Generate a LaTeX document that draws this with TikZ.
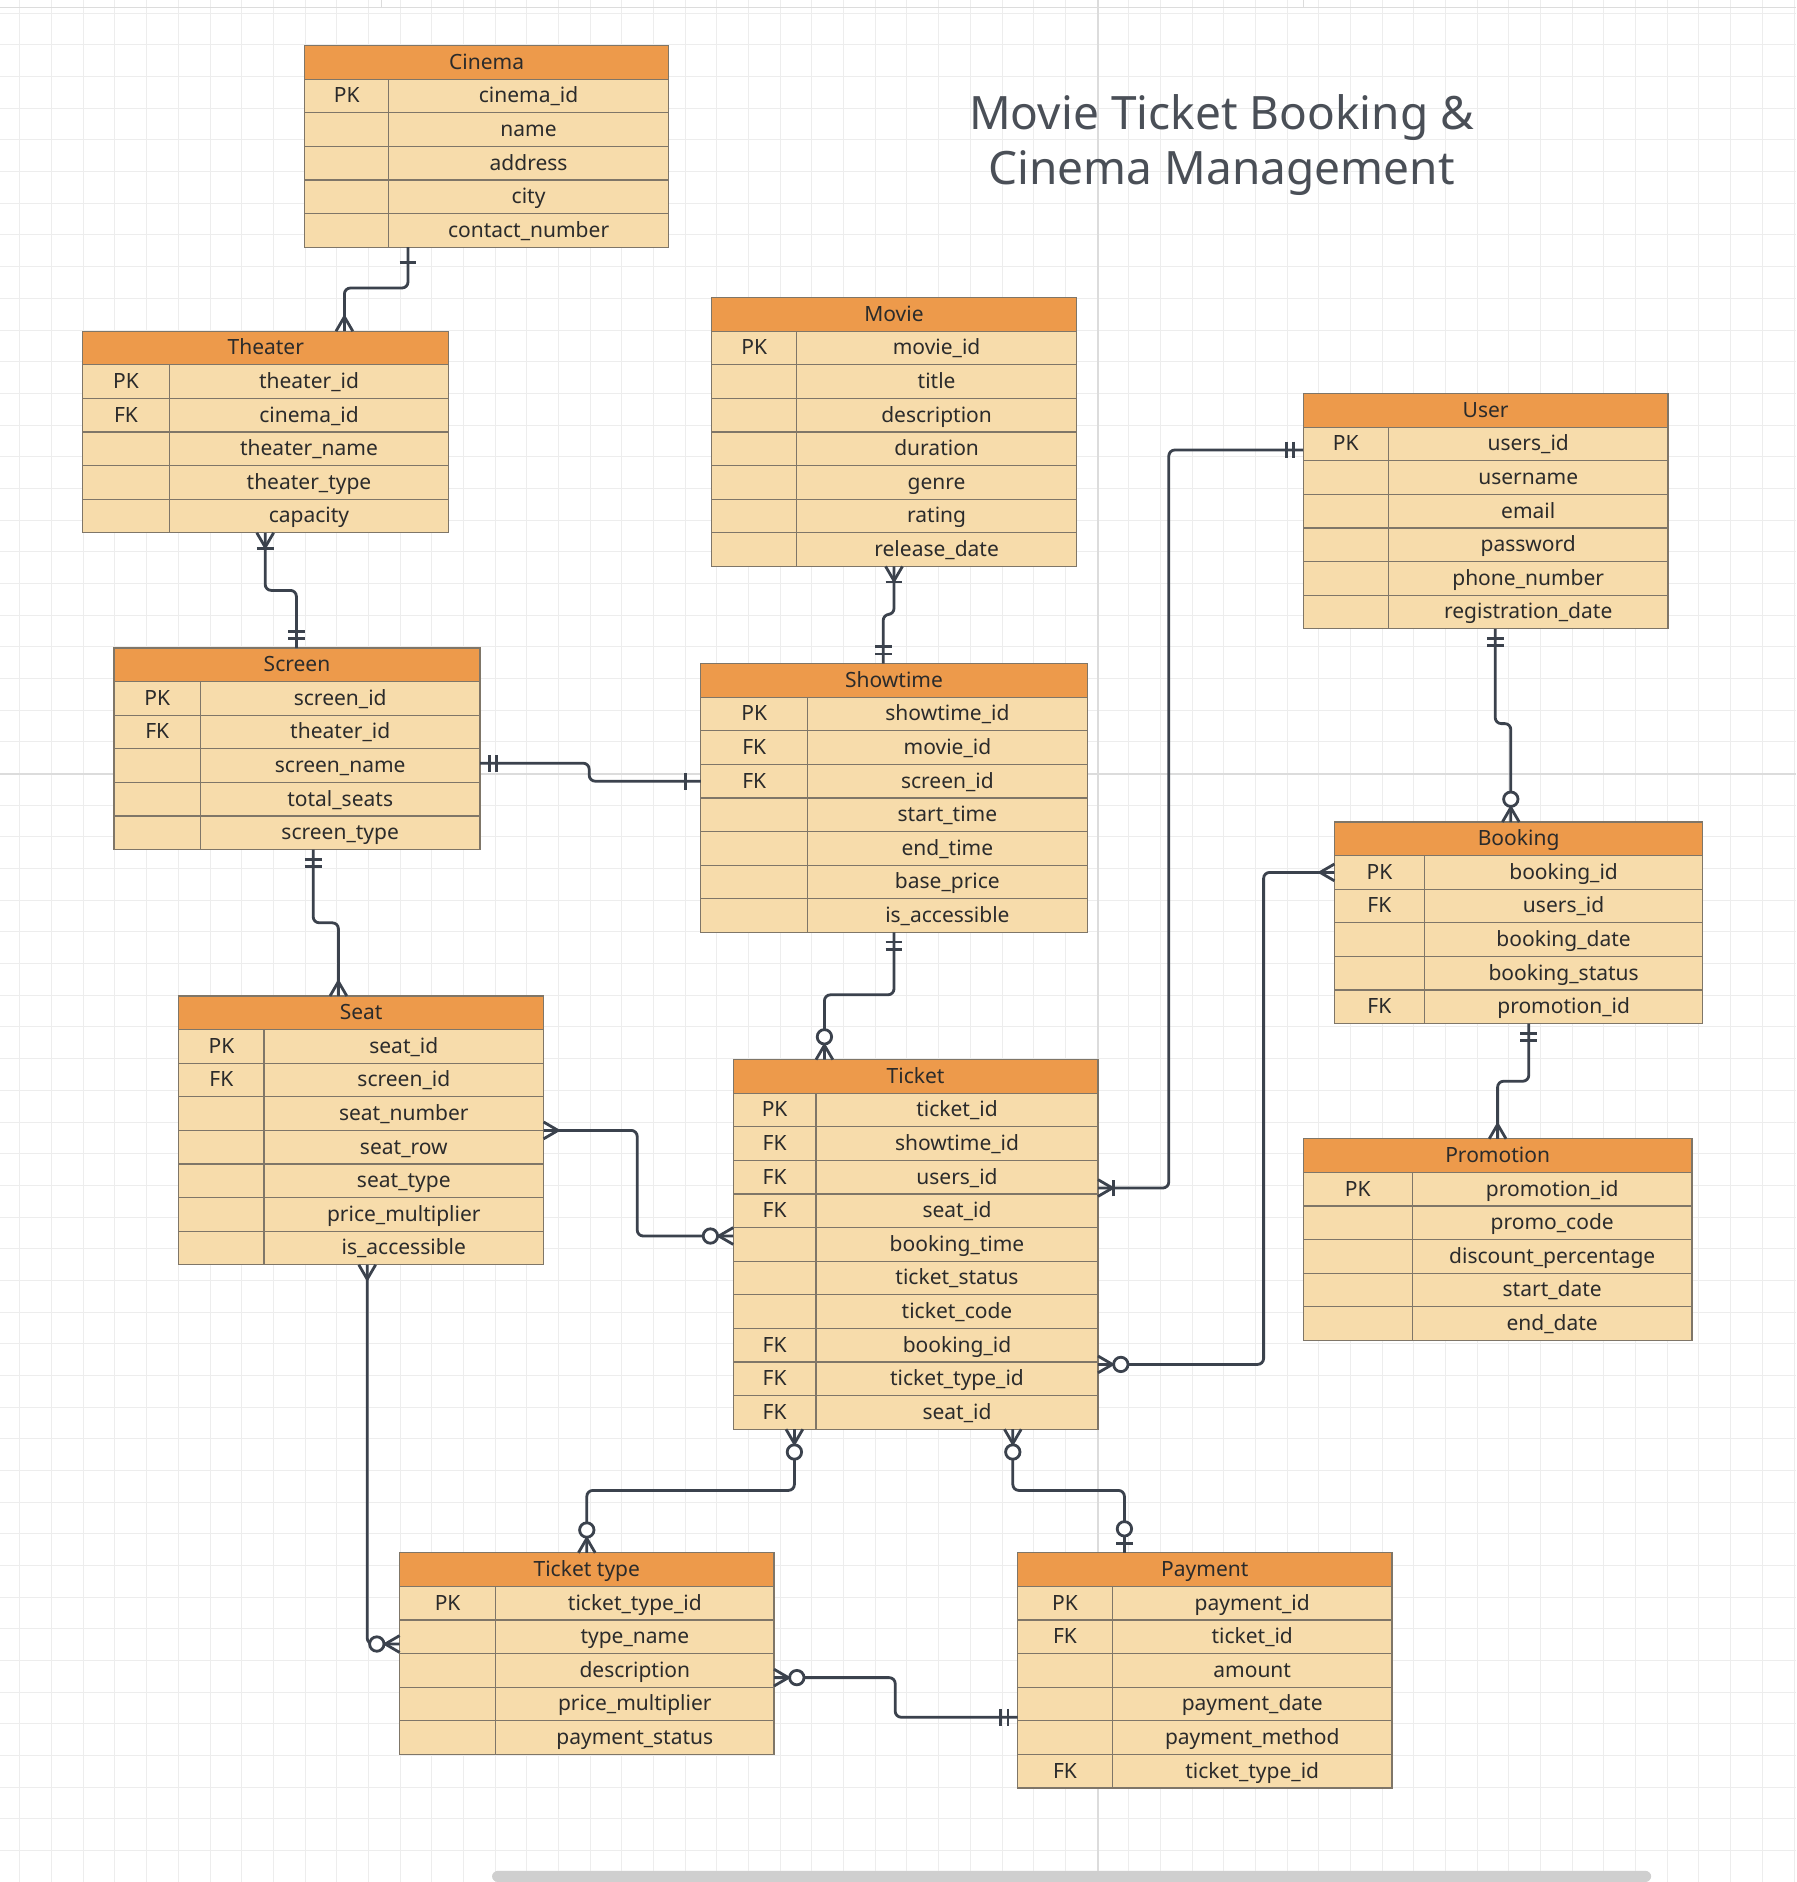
\documentclass[tikz,border=0pt]{standalone}
\usepackage{fontspec}
\setmainfont{Noto Sans}
\usetikzlibrary{fit,calc}
\definecolor{hdrorange}{HTML}{ED9A4B}
\definecolor{rowwheat}{HTML}{F7DCAB}
\definecolor{tblborder}{HTML}{7F7668}
\definecolor{relcol}{HTML}{3B424D}
\definecolor{gridcol}{HTML}{EDEDED}
\definecolor{gridmajor}{HTML}{DCDCDC}
\definecolor{txtcol}{HTML}{2B2B2B}
\definecolor{titlecol}{HTML}{4A4F57}
\definecolor{scrollgray}{HTML}{CFCFCF}
\tikzset{
  tblnode/.style={inner sep=0pt, outer sep=0pt},
  tblline/.style={draw=tblborder, line width=0.6pt},
  celltext/.style={inner sep=0pt, text height=7.2pt, text depth=0.3pt, text=txtcol, font=\fontsize{10.5}{12}\selectfont},
  rel/.style={draw=relcol, line width=1.4pt, rounded corners=3pt},
  relmark/.style={draw=relcol, line width=1.4pt},
  gridline/.style={draw=gridcol, line width=0.5pt},
  titletext/.style={text=titlecol, align=center, font=\fontsize{23}{27.6}\selectfont}
}
\newcommand\ertable[8]{%
  \pgfmathsetmacro\ybot{#3+28*(#7+1)}%
  \fill[hdrorange] (#2,#3) rectangle (#4,#3+28);
  \fill[rowwheat] (#2,#3+28) rectangle (#4,\ybot);
  \foreach \k/\f [count=\i] in {#8} {%
    \pgfmathsetmacro\yc{#3+28*\i+14}%
    \node[celltext] (#1-k\i) at ({(#2+#5)/2},\yc) {\k};
    \node[celltext] (#1-f\i) at ({(#5+#4)/2},\yc) {\f};
    \draw[tblline] (#2,\yc-14) -- (#4,\yc-14);
  }
  \draw[tblline] (#5,#3+28) -- (#5,\ybot);
  \draw[tblline] (#2,#3) rectangle (#4,\ybot);
  \node[tblnode, fit={(#2,#3)(#4,\ybot)}] (#1) {};
  \node[celltext] (#1-title) at ({(#2+#4)/2},#3+14) {#6};
}
\newcommand\mkcrow[2]{\draw[relmark, shift={(#1)}, rotate=#2] (0,7) -- (12,0) -- (0,-7);}
\newcommand\mkbar[3]{\draw[relmark, shift={(#1)}, rotate=#2] (#3,7) -- (#3,-7);}
\newcommand\mkcirc[3]{\draw[relmark, fill=white, shift={(#1)}, rotate=#2] (#3,0) circle[radius=6];}
\newcommand\erMany[2]{\mkcrow{#1}{#2}}
\newcommand\erOne[2]{\mkbar{#1}{#2}{13}}
\newcommand\erMandOne[2]{\mkbar{#1}{#2}{8}\mkbar{#1}{#2}{14}}
\newcommand\erOneMany[2]{\mkcrow{#1}{#2}\mkbar{#1}{#2}{13}}
\newcommand\erZeroMany[2]{\mkcrow{#1}{#2}\mkcirc{#1}{#2}{19}}
\newcommand\erZeroOne[2]{\mkbar{#1}{#2}{8}\mkcirc{#1}{#2}{20}}
\begin{document}
\begin{tikzpicture}[x=0.6pt, y=-0.6pt]
\fill[white] (0,0) rectangle (1496.67,1568.33);
\useasboundingbox (0,0) rectangle (1496.67,1568.33);
% grid
\foreach \i in {0,...,56} {\draw[gridline] (16.6+26.4*\i,0) -- (16.6+26.4*\i,1568.33);}
\foreach \i in {0,...,59} {\draw[gridline] (0,11+26.4*\i) -- (1496.67,11+26.4*\i);}
\draw[draw=gridmajor, line width=0.6pt] (915,0) -- (915,1568.33);
\draw[draw=gridmajor, line width=0.6pt] (0,645) -- (1496.67,645);
\draw[draw=gridmajor, line width=0.6pt] (0,6) -- (1496.67,6);
\draw[draw=gridmajor, line width=0.6pt] (318,0) -- (318,6);
\draw[draw=gridmajor, line width=0.6pt] (1086,0) -- (1086,6);
\fill[scrollgray, rounded corners=3pt] (410,1559) rectangle (1376,1568.33);
% title
\node[titletext] (title) at (1018,121) {Movie Ticket Booking \&\\Cinema Management};
% tables
\ertable{cinema}{254}{38}{557}{324}{Cinema}{5}{PK/cinema\_id, /name, /address, /city, /contact\_number}
\ertable{theater}{69}{276}{374}{141}{Theater}{5}{PK/theater\_id, FK/cinema\_id, /theater\_name, /theater\_type, /capacity}
\ertable{movie}{593}{248}{897}{664}{Movie}{7}{PK/movie\_id, /title, /description, /duration, /genre, /rating, /release\_date}
\ertable{user}{1086}{328}{1390}{1157}{User}{6}{PK/users\_id, /username, /email, /password, /phone\_number, /registration\_date}
\ertable{screen}{95}{540}{400}{167}{Screen}{5}{PK/screen\_id, FK/theater\_id, /screen\_name, /total\_seats, /screen\_type}
\ertable{showtime}{584}{553}{906}{673}{Showtime}{7}{PK/showtime\_id, FK/movie\_id, FK/screen\_id, /start\_time, /end\_time, /base\_price, /is\_accessible}
\ertable{booking}{1112}{685}{1419}{1187}{Booking}{5}{PK/booking\_id, FK/users\_id, /booking\_date, /booking\_status, FK/promotion\_id}
\ertable{seat}{149}{830}{453}{220}{Seat}{7}{PK/seat\_id, FK/screen\_id, /seat\_number, /seat\_row, /seat\_type, /price\_multiplier, /is\_accessible}
\ertable{ticket}{611}{883}{915}{680}{Ticket}{10}{PK/ticket\_id, FK/showtime\_id, FK/users\_id, FK/seat\_id, /booking\_time, /ticket\_status, /ticket\_code, FK/booking\_id, FK/ticket\_type\_id, FK/seat\_id}
\ertable{promotion}{1086}{949}{1410}{1177}{Promotion}{5}{PK/promotion\_id, /promo\_code, /discount\_percentage, /start\_date, /end\_date}
\ertable{tickettype}{333}{1294}{645}{413}{Ticket type}{5}{PK/ticket\_type\_id, /type\_name, /description, /price\_multiplier, /payment\_status}
\ertable{payment}{848}{1294}{1160}{927}{Payment}{6}{PK/payment\_id, FK/ticket\_id, /amount, /payment\_date, /payment\_method, FK/ticket\_type\_id}
% connector end points
\coordinate (c1a) at (cinema.south -| 340,0);
\coordinate (c1b) at (theater.north -| 287,0);
\coordinate (c2a) at (theater.south -| 221,0);
\coordinate (c2b) at (screen.north -| 247,0);
\coordinate (c3a) at (movie.south -| 745,0);
\coordinate (c3b) at (showtime.north -| 736,0);
\coordinate (c4a) at (screen.east |- 0,636);
\coordinate (c4b) at (showtime.west |- 0,651);
\coordinate (c5a) at (user.west |- 0,375);
\coordinate (c5b) at (ticket.east |- 0,990);
\coordinate (c6a) at (user.south -| 1246,0);
\coordinate (c6b) at (booking.north -| 1259,0);
\coordinate (c7a) at (showtime.south -| 745,0);
\coordinate (c7b) at (ticket.north -| 687,0);
\coordinate (c8a) at (seat.east |- 0,942);
\coordinate (c8b) at (ticket.west |- 0,1030);
\coordinate (c9a) at (screen.south -| 261,0);
\coordinate (c9b) at (seat.north -| 282,0);
\coordinate (c10a) at (booking.west |- 0,727);
\coordinate (c10b) at (ticket.east |- 0,1137);
\coordinate (c11a) at (booking.south -| 1274,0);
\coordinate (c11b) at (promotion.north -| 1248,0);
\coordinate (c12a) at (ticket.south -| 662,0);
\coordinate (c12b) at (tickettype.north -| 489,0);
\coordinate (c13a) at (ticket.south -| 844,0);
\coordinate (c13b) at (payment.north -| 937,0);
\coordinate (c14a) at (seat.south -| 306,0);
\coordinate (c14b) at (tickettype.west |- 0,1370);
\coordinate (c15a) at (tickettype.east |- 0,1398);
\coordinate (c15b) at (payment.west |- 0,1431);
% connectors
\draw[rel] (c1a) -- (340,240) -- (287,240) -- (c1b);
\draw[rel] (c2a) -- (221,492) -- (247,492) -- (c2b);
\draw[rel] (c3a) -- (745,512) -- (736,512) -- (c3b);
\draw[rel] (c4a) -- (491,636) -- (491,651) -- (c4b);
\draw[rel] (c5a) -- (974,375) -- (974,990) -- (c5b);
\draw[rel] (c6a) -- (1246,603) -- (1259,603) -- (c6b);
\draw[rel] (c7a) -- (745,829) -- (687,829) -- (c7b);
\draw[rel] (c8a) -- (531,942) -- (531,1030) -- (c8b);
\draw[rel] (c9a) -- (261,769) -- (282,769) -- (c9b);
\draw[rel] (c10a) -- (1053,727) -- (1053,1137) -- (c10b);
\draw[rel] (c11a) -- (1274,901) -- (1248,901) -- (c11b);
\draw[rel] (c12a) -- (662,1242) -- (489,1242) -- (c12b);
\draw[rel] (c13a) -- (844,1242) -- (937,1242) -- (c13b);
\draw[rel] (c14a) -- (306,1370) -- (c14b);
\draw[rel] (c15a) -- (746,1398) -- (746,1431) -- (c15b);
% end markers
\erOne{c1a}{270} \erMany{c1b}{90}
\erOneMany{c2a}{270} \erMandOne{c2b}{90}
\erOneMany{c3a}{270} \erMandOne{c3b}{90}
\erMandOne{c4a}{0} \erOne{c4b}{180}
\erMandOne{c5a}{180} \erOneMany{c5b}{0}
\erMandOne{c6a}{270} \erZeroMany{c6b}{90}
\erMandOne{c7a}{270} \erZeroMany{c7b}{90}
\erMany{c8a}{0} \erZeroMany{c8b}{180}
\erMandOne{c9a}{270} \erMany{c9b}{90}
\erMany{c10a}{180} \erZeroMany{c10b}{0}
\erMandOne{c11a}{270} \erMany{c11b}{90}
\erZeroMany{c12a}{270} \erZeroMany{c12b}{90}
\erZeroMany{c13a}{270} \erZeroOne{c13b}{90}
\erMany{c14a}{270} \erZeroMany{c14b}{180}
\erZeroMany{c15a}{0} \erMandOne{c15b}{180}
\end{tikzpicture}
\end{document}
